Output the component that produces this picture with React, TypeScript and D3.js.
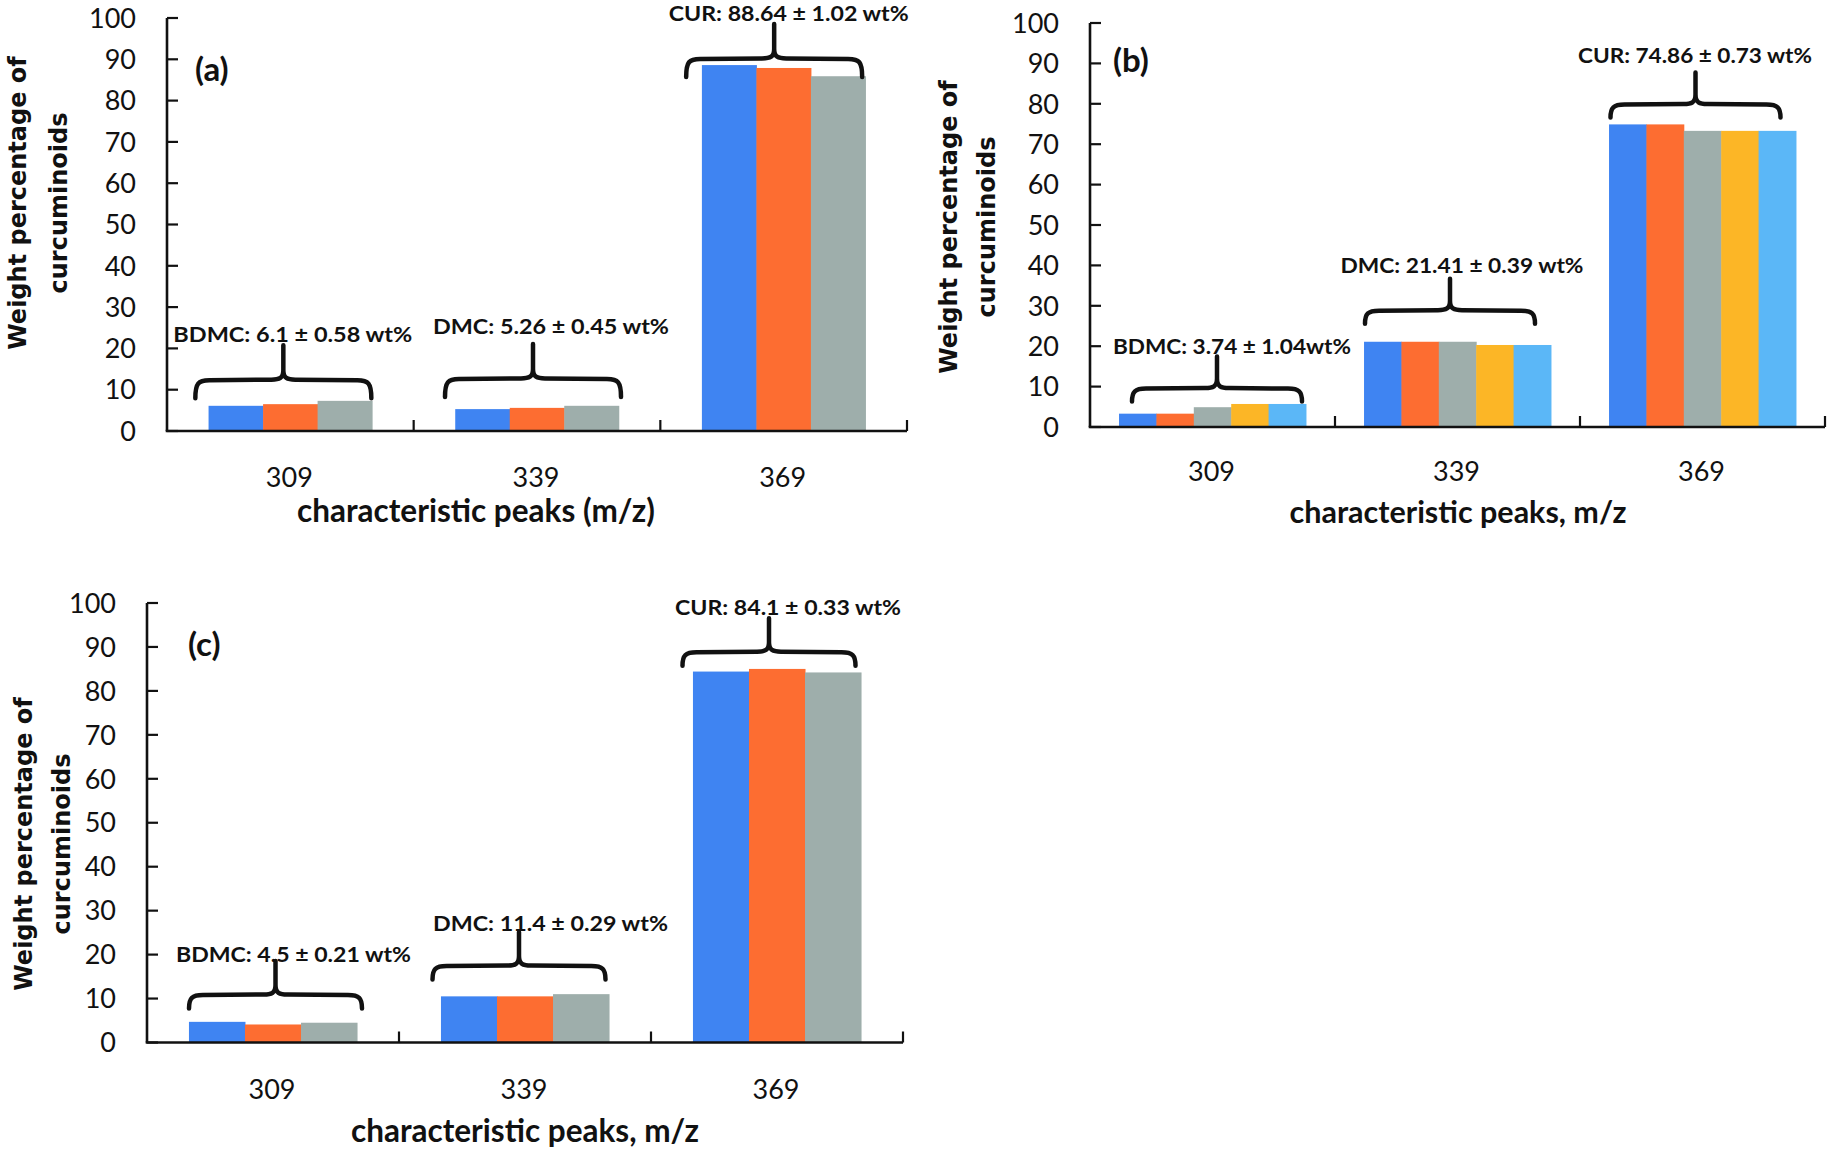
import React from "react";
import * as d3 from "d3";

// ---------- data ----------
const categories = ["309", "339", "369"];
const yTickValues = [0, 10, 20, 30, 40, 50, 60, 70, 80, 90, 100];

// bar heights (wt%) per category, one entry per replicate series
const valuesA = [
  [6.1, 6.5, 7.3],
  [5.3, 5.6, 6.1],
  [88.6, 87.9, 85.9],
];
const valuesB = [
  [3.3, 3.3, 4.9, 5.7, 5.7],
  [21.1, 21.1, 21.1, 20.3, 20.3],
  [74.9, 74.9, 73.3, 73.3, 73.3],
];
const valuesC = [
  [4.7, 4.1, 4.5],
  [10.5, 10.5, 11.0],
  [84.4, 85.0, 84.2],
];

const labelsA = ["BDMC: 6.1 ± 0.58 wt%", "DMC: 5.26 ± 0.45 wt%", "CUR: 88.64 ± 1.02 wt%"];
const labelsB = ["BDMC: 3.74 ± 1.04wt%", "DMC: 21.41 ± 0.39 wt%", "CUR: 74.86 ± 0.73 wt%"];
const labelsC = ["BDMC: 4.5 ± 0.21 wt%", "DMC: 11.4 ± 0.29 wt%", "CUR: 84.1 ± 0.33 wt%"];

// annotation levels, in wt% units
const braceLevelA = [12.3, 12.6, 90.1];
const braceLevelB = [9.5, 28.8, 79.8];
const braceLevelC = [10.8, 17.4, 88.8];
const labelLevelA = [23.2, 25.2, 100.9];
const labelLevelB = [19.8, 39.8, 92.0];
const labelLevelC = [19.9, 27.0, 98.8];

const panelTags = ["(a)", "(b)", "(c)"];
const xTitles = ["characteristic peaks (m/z)", "characteristic peaks, m/z", "characteristic peaks, m/z"];
const yTitleLines = ["Weight percentage of", "curcuminoids"];
const seriesColors = ["#3f84f2", "#fd6d31", "#9eaeab", "#fcb626", "#5bb7f7"];

// ---------- layout (positions / sizes) ----------
type Layout = {
  x0: number; x1: number; yTop: number; yBot: number;
  groupFrac: number;
  braceW: number; braceDx: number[]; braceDepth: number; bracePeak: number;
  labelDx: number[]; labelW: number[];
  tagX: number; tagY: number;
  yTitleB1: number; yTitleB2: number; yTitleCy: number;
  tickBase: number; titleBase: number; titleCx: number; titleSize: number;
};

const layoutA: Layout = {
  x0: 167, x1: 907, yTop: 18, yBot: 431, groupFrac: 0.663,
  braceW: 176, braceDx: [-7, -4, -9.5], braceDepth: 18, bracePeak: 35,
  labelDx: [2.5, 14, 5], labelW: [239, 236, 240],
  tagX: 195, tagY: 69, yTitleB1: 26, yTitleB2: 67, yTitleCy: 203,
  tickBase: 56, titleBase: 91, titleCx: 476, titleSize: 31.5,
};
const layoutB: Layout = {
  x0: 1090, x1: 1825, yTop: 23, yBot: 427, groupFrac: 0.763,
  braceW: 170, braceDx: [4.5, -7.5, -7], braceDepth: 13, bracePeak: 32,
  labelDx: [19.5, 4.5, -7.5], labelW: [238, 243, 234],
  tagX: 1113, tagY: 60, yTitleB1: 957, yTitleB2: 995, yTitleCy: 227,
  tickBase: 54, titleBase: 96, titleCx: 1458, titleSize: 30.5,
};
const layoutC: Layout = {
  x0: 147, x1: 903, yTop: 603, yBot: 1042.5, groupFrac: 0.667,
  braceW: 173, braceDx: [2.5, -6, -8], braceDepth: 13.5, bracePeak: 34,
  labelDx: [20.5, 25.5, 11], labelW: [235, 235, 226],
  tagX: 188, tagY: 644, yTitleB1: 32, yTitleB2: 70, yTitleCy: 844,
  tickBase: 56, titleBase: 99, titleCx: 525, titleSize: 31.5,
};

const FONT = "Lato, 'Open Sans', sans-serif";
const TITLE_FONT = "'DejaVu Sans', Verdana, sans-serif";

function bracePath(cx: number, w: number, yh: number, depth: number, peak: number) {
  const xl = cx - w / 2;
  const xr = cx + w / 2;
  const p = d3.path();
  p.moveTo(xl, yh + depth);
  p.bezierCurveTo(xl, yh + 3, xl + 3, yh, xl + 14, yh);
  p.lineTo(cx - 12, yh - 0.5);
  p.bezierCurveTo(cx - 4, yh - 0.5, cx, yh - 2, cx, yh - 10);
  p.lineTo(cx, yh - peak);
  p.moveTo(cx, yh - 10);
  p.bezierCurveTo(cx, yh - 2, cx + 4, yh - 0.5, cx + 12, yh - 0.5);
  p.lineTo(xr - 14, yh);
  p.bezierCurveTo(xr - 3, yh, xr, yh + 3, xr, yh + depth);
  return p.toString();
}

function Panel({
  values, labels, braceLevel, labelLevel, tag, xTitle, L,
}: {
  values: number[][]; labels: string[]; braceLevel: number[]; labelLevel: number[];
  tag: string; xTitle: string; L: Layout;
}) {
  const x = d3.scaleBand<string>().domain(categories).range([L.x0, L.x1]).padding(0);
  const y = d3.scaleLinear().domain([0, 100]).range([L.yBot, L.yTop]);
  const bw = x.bandwidth();
  const nSeries = values[0].length;
  const seriesIdx = d3.range(nSeries).map(String);

  return (
    <g>
      {/* bars */}
      {categories.map((c, ci) => {
        const cx = (x(c) as number) + bw / 2;
        const gw = bw * L.groupFrac;
        const inner = d3.scaleBand<string>().domain(seriesIdx).range([cx - gw / 2, cx + gw / 2]).padding(0);
        return values[ci].map((v, si) => (
          <rect
            key={c + si}
            x={inner(String(si)) as number}
            y={y(v)}
            width={inner.bandwidth() + 0.5}
            height={y(0) - y(v)}
            fill={seriesColors[si]}
          />
        ));
      })}

      {/* y axis */}
      <line x1={L.x0} x2={L.x0} y1={L.yTop} y2={L.yBot} stroke="#111" strokeWidth={2.6} />
      {yTickValues.map((t) => (
        <g key={t}>
          <line x1={L.x0} x2={L.x0 + 11} y1={y(t)} y2={y(t)} stroke="#111" strokeWidth={2.2} />
          <text
            x={L.x0 - 31}
            y={y(t)}
            dy="0.36em"
            textAnchor="end"
            fontFamily={FONT}
            fontSize={27}
            fill="#111"
          >
            {t}
          </text>
        </g>
      ))}

      {/* x axis */}
      <line x1={L.x0 - 1.3} x2={L.x1} y1={L.yBot} y2={L.yBot} stroke="#111" strokeWidth={2.6} />
      {categories.map((c) => {
        const xe = (x(c) as number) + bw;
        return <line key={"sep" + c} x1={xe} x2={xe} y1={L.yBot} y2={L.yBot - 11} stroke="#111" strokeWidth={2.2} />;
      })}
      {categories.map((c) => (
        <text
          key={"xl" + c}
          x={(x(c) as number) + bw / 2 - 1}
          y={L.yBot + L.tickBase}
          textAnchor="middle"
          fontFamily={FONT}
          fontSize={27}
          fill="#111"
        >
          {c}
        </text>
      ))}

      {/* x title */}
      <text
        x={L.titleCx}
        y={L.yBot + L.titleBase}
        textAnchor="middle"
        fontFamily={FONT}
        fontWeight={700}
        fontSize={L.titleSize}
        fill="#111"
      >
        {xTitle}
      </text>

      {/* y title */}
      <g fontFamily={TITLE_FONT} fontWeight={700} fontSize={24} fill="#111">
        <text transform={`translate(${L.yTitleB1},${L.yTitleCy}) rotate(-90)`} textAnchor="middle">
          {yTitleLines[0]}
        </text>
        <text transform={`translate(${L.yTitleB2},${L.yTitleCy}) rotate(-90)`} textAnchor="middle">
          {yTitleLines[1]}
        </text>
      </g>

      {/* panel tag */}
      <text
        x={L.tagX}
        y={L.tagY}
        dy="0.35em"
        fontFamily={FONT}
        fontWeight={700}
        fontSize={33}
        fill="#111"
      >
        {tag}
      </text>

      {/* braces and labels */}
      {categories.map((c, ci) => {
        const cx = (x(c) as number) + bw / 2;
        return (
          <g key={"br" + c}>
            <path
              d={bracePath(cx + L.braceDx[ci], L.braceW, y(braceLevel[ci]), L.braceDepth, L.bracePeak)}
              fill="none"
              stroke="#111"
              strokeWidth={4.5}
              strokeLinecap="round"
              strokeLinejoin="round"
            />
            <text
              x={cx + L.labelDx[ci]}
              y={y(labelLevel[ci])}
              dy="0.36em"
              textAnchor="middle"
              fontFamily={FONT}
              fontWeight={700}
              fontSize={20}
              fill="#111"
              textLength={L.labelW[ci]}
              lengthAdjust="spacingAndGlyphs"
            >
              {labels[ci]}
            </text>
          </g>
        );
      })}
    </g>
  );
}

export default function App() {
  return (
    <svg
      width={1831}
      height={1151}
      viewBox="0 0 1831 1151"
      style={{ position: "absolute", left: 0, top: 0, background: "#fff" }}
    >
      <rect x={0} y={0} width={1831} height={1151} fill="#fff" />
      <Panel values={valuesA} labels={labelsA} braceLevel={braceLevelA} labelLevel={labelLevelA} tag={panelTags[0]} xTitle={xTitles[0]} L={layoutA} />
      <Panel values={valuesB} labels={labelsB} braceLevel={braceLevelB} labelLevel={labelLevelB} tag={panelTags[1]} xTitle={xTitles[1]} L={layoutB} />
      <Panel values={valuesC} labels={labelsC} braceLevel={braceLevelC} labelLevel={labelLevelC} tag={panelTags[2]} xTitle={xTitles[2]} L={layoutC} />
    </svg>
  );
}
